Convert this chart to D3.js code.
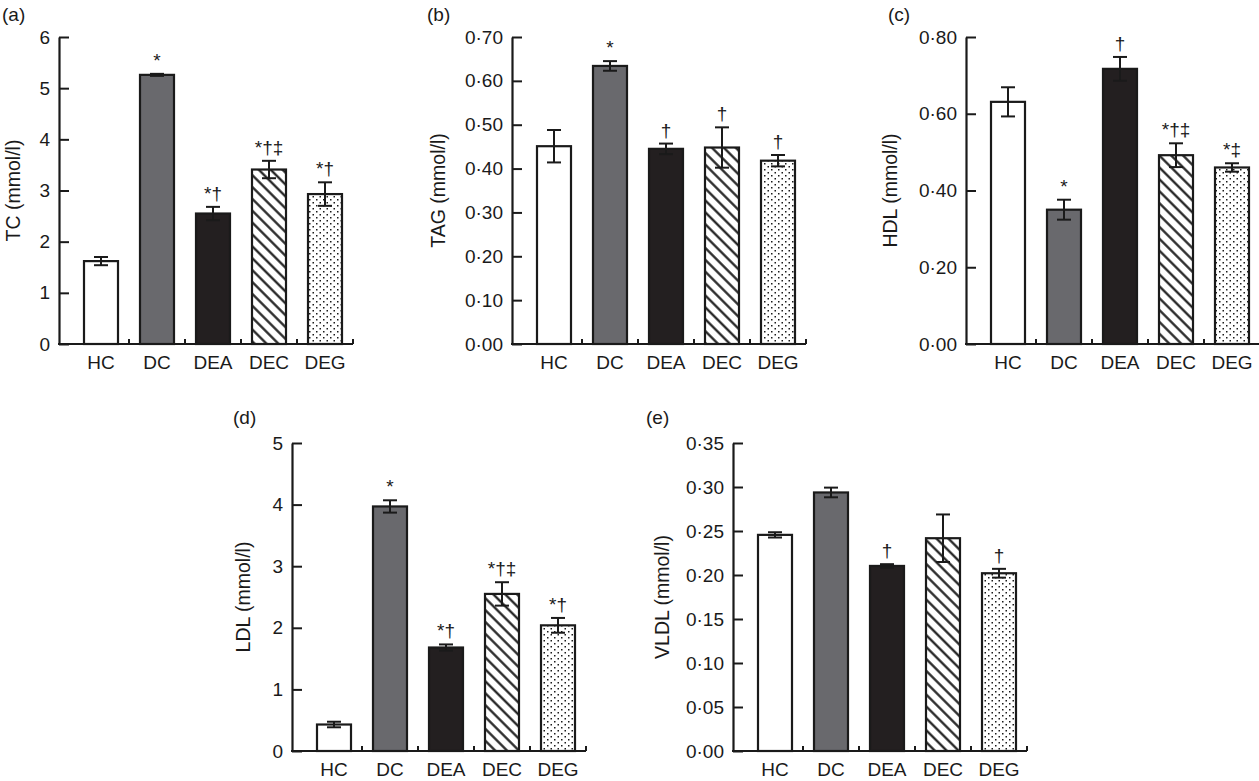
<!DOCTYPE html>
<html>
<head>
<meta charset="utf-8">
<script src="https://cdn.jsdelivr.net/npm/d3@7"></script>
<style>
  body { margin: 0; background: #fff; }
  text { font-family: "Liberation Sans", Arial, Helvetica, sans-serif; fill: #1a1a1a; }
</style>
</head>
<body>
<svg id="chart" width="1259" height="781"></svg>
<script>
const groups = ['HC', 'DC', 'DEA', 'DEC', 'DEG'];

// (a) total cholesterol
const tcMean = [1.62, 5.26, 2.55, 3.41, 2.93];
const tcErr = [0.08, 0.02, 0.13, 0.17, 0.23];
const tcSig = ['', '*', '*†', '*†‡', '*†'];
const tcTicks = [0, 1, 2, 3, 4, 5, 6];

// (b) TAG
const tagMean = [0.451, 0.634, 0.445, 0.448, 0.418];
const tagErr = [0.037, 0.011, 0.012, 0.046, 0.013];
const tagSig = ['', '*', '†', '†', '†'];
const tagTicks = [0, 0.1, 0.2, 0.3, 0.4, 0.5, 0.6, 0.7];

// (c) HDL
const hdlMean = [0.631, 0.350, 0.717, 0.492, 0.460];
const hdlErr = [0.038, 0.026, 0.031, 0.031, 0.011];
const hdlSig = ['', '*', '†', '*†‡', '*‡'];
const hdlTicks = [0, 0.2, 0.4, 0.6, 0.8];

// (d) LDL
const ldlMean = [0.43, 3.97, 1.68, 2.55, 2.04];
const ldlErr = [0.045, 0.10, 0.05, 0.19, 0.12];
const ldlSig = ['', '*', '*†', '*†‡', '*†'];
const ldlTicks = [0, 1, 2, 3, 4, 5];

// (e) VLDL
const vldlMean = [0.2456, 0.2938, 0.2103, 0.2418, 0.2020];
const vldlErr = [0.003, 0.0055, 0.002, 0.027, 0.005];
const vldlSig = ['', '', '†', '', '†'];
const vldlTicks = [0, 0.05, 0.10, 0.15, 0.20, 0.25, 0.30, 0.35];

const fills = ['#ffffff', '#69696d', '#231f20', 'url(#hatch)', 'url(#dots)'];

const intFmt = d3.format('d');
const decFmt = d => d3.format('.2f')(d).replace('.', '·');

const panels = [
  { tag: '(a)', title: 'TC (mmol/l)', mean: tcMean, err: tcErr, sig: tcSig, ticks: tcTicks, fmt: intFmt,
    x0: 59, top: 37, bottom: 344, tagX: 2, tagY: 21, titleOff: 39 },
  { tag: '(b)', title: 'TAG (mmol/l)', mean: tagMean, err: tagErr, sig: tagSig, ticks: tagTicks, fmt: decFmt,
    x0: 512, top: 37, bottom: 344, tagX: 427, tagY: 21, titleOff: 67 },
  { tag: '(c)', title: 'HDL (mmol/l)', mean: hdlMean, err: hdlErr, sig: hdlSig, ticks: hdlTicks, fmt: decFmt,
    x0: 966, top: 37, bottom: 344, tagX: 888, tagY: 21, titleOff: 69 },
  { tag: '(d)', title: 'LDL (mmol/l)', mean: ldlMean, err: ldlErr, sig: ldlSig, ticks: ldlTicks, fmt: intFmt,
    x0: 292, top: 443, bottom: 751, tagX: 233, tagY: 424, titleOff: 42 },
  { tag: '(e)', title: 'VLDL (mmol/l)', mean: vldlMean, err: vldlErr, sig: vldlSig, ticks: vldlTicks, fmt: decFmt,
    x0: 733, top: 443, bottom: 751, tagX: 646, tagY: 424, titleOff: 64 }
];

const svg = d3.select('#chart');
const defs = svg.append('defs');

// diagonal hatch (\\\)
const hatch = defs.append('pattern')
  .attr('id', 'hatch')
  .attr('patternUnits', 'userSpaceOnUse')
  .attr('width', 8.4).attr('height', 8.4)
  .attr('patternTransform', 'rotate(45)');
hatch.append('rect').attr('width', 8.4).attr('height', 8.4).attr('fill', '#fff');
hatch.append('line')
  .attr('x1', 0).attr('x2', 8.4).attr('y1', 4.2).attr('y2', 4.2)
  .attr('stroke', '#1a1a1a').attr('stroke-width', 2.2);

// staggered dots
const dots = defs.append('pattern')
  .attr('id', 'dots')
  .attr('patternUnits', 'userSpaceOnUse')
  .attr('width', 7).attr('height', 6);
dots.append('rect').attr('width', 7).attr('height', 6).attr('fill', '#fff');
dots.selectAll('rect.dot')
  .data([[1, 1], [4.5, 4]])
  .join('rect')
  .attr('class', 'dot')
  .attr('x', d => d[0]).attr('y', d => d[1])
  .attr('width', 1.5).attr('height', 1.5)
  .attr('fill', '#1a1a1a');

const fontSize = '19px';
const titleSize = '19.5px';
const barW = 34;

panels.forEach(p => {
  const g = svg.append('g');

  const y = d3.scaleLinear()
    .domain([0, d3.max(p.ticks)])
    .range([p.bottom, p.top]);

  const x = d3.scaleBand()
    .domain(groups)
    .range([p.x0 + 14, p.x0 + 294]);

  const rows = groups.map((k, i) => ({ k, v: p.mean[i], e: p.err[i], s: p.sig[i], fill: fills[i] }));

  // bars
  g.selectAll('.bar')
    .data(rows)
    .join('rect')
    .attr('class', 'bar')
    .attr('x', d => x(d.k) + (x.bandwidth() - barW) / 2)
    .attr('y', d => y(d.v))
    .attr('width', barW)
    .attr('height', d => y(0) - y(d.v))
    .attr('fill', d => d.fill)
    .attr('stroke', '#1a1a1a')
    .attr('stroke-width', 2.2);

  // error bars
  g.selectAll('.err')
    .data(rows)
    .join('g')
    .attr('class', 'err')
    .attr('transform', d => 'translate(' + (x(d.k) + x.bandwidth() / 2) + ',0)')
    .call(sel => {
      sel.append('line')
        .attr('y1', d => y(d.v - d.e)).attr('y2', d => y(d.v + d.e))
        .attr('stroke', '#1a1a1a').attr('stroke-width', 2);
      sel.selectAll('.cap')
        .data(d => [d.v - d.e, d.v + d.e])
        .join('line')
        .attr('class', 'cap')
        .attr('x1', -7).attr('x2', 7)
        .attr('y1', d => y(d)).attr('y2', d => y(d))
        .attr('stroke', '#1a1a1a').attr('stroke-width', 2);
    });

  // significance marks
  g.selectAll('.sig')
    .data(rows.filter(d => d.s))
    .join('text')
    .attr('class', 'sig')
    .attr('x', d => x(d.k) + x.bandwidth() / 2)
    .attr('y', d => y(d.v + d.e) - 7)
    .attr('text-anchor', 'middle')
    .style('font-size', fontSize)
    .text(d => d.s);

  // y axis
  const yAxis = g.append('g')
    .attr('transform', 'translate(' + p.x0 + ',0)')
    .call(d3.axisLeft(y).tickValues(p.ticks).tickFormat(p.fmt).tickSize(-10).tickSizeOuter(0).tickPadding(9));
  yAxis.select('.domain').attr('stroke', '#1a1a1a').attr('stroke-width', 2.2);
  yAxis.selectAll('.tick line').attr('stroke', '#1a1a1a').attr('stroke-width', 2);
  yAxis.selectAll('.tick text').style('font-size', fontSize).attr('fill', '#1a1a1a')
    .style('font-family', '"Liberation Sans", Arial, sans-serif');

  // x axis
  g.append('line')
    .attr('x1', p.x0 - 1).attr('x2', x.range()[1])
    .attr('y1', y(0)).attr('y2', y(0))
    .attr('stroke', '#1a1a1a').attr('stroke-width', 2.2);
  g.selectAll('.xtick')
    .data(groups)
    .join('line')
    .attr('class', 'xtick')
    .attr('x1', d => x(d) + x.bandwidth()).attr('x2', d => x(d) + x.bandwidth())
    .attr('y1', y(0)).attr('y2', y(0) - 5)
    .attr('stroke', '#1a1a1a').attr('stroke-width', 2);
  g.selectAll('.xlab')
    .data(groups)
    .join('text')
    .attr('class', 'xlab')
    .attr('x', d => x(d) + x.bandwidth() / 2)
    .attr('y', y(0) + 25)
    .attr('text-anchor', 'middle')
    .style('font-size', fontSize)
    .text(d => d);

  // axis title
  g.append('text')
    .attr('transform', 'translate(' + (p.x0 - p.titleOff) + ',' + ((p.top + p.bottom) / 2) + ') rotate(-90)')
    .attr('text-anchor', 'middle')
    .style('font-size', titleSize)
    .text(p.title);

  // panel tag
  g.append('text')
    .attr('x', p.tagX)
    .attr('y', p.tagY)
    .style('font-size', fontSize)
    .text(p.tag);
});
</script>
</body>
</html>
